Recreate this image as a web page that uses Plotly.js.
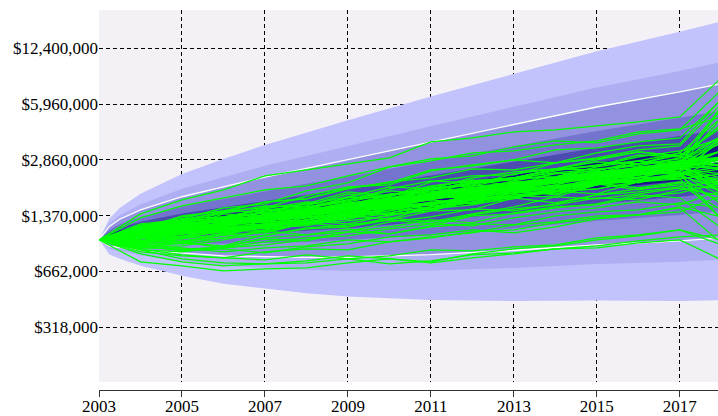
<!DOCTYPE html>
<html><head><meta charset="utf-8">
<script src="https://cdn.plot.ly/plotly-3.0.1.min.js"></script>
<style>html,body{margin:0;padding:0;background:#fff}#chart{width:718px;height:416px}</style>
</head><body><div id="chart"></div>
<script>
// All money values in thousands of dollars ($K)
const pathYears = [2003,2004,2005,2006,2007,2008,2009,2010,2011,2012,2013,2014,2015,2016,2017,2018];
const sim01 = [1000,1171,1318,1522,1604,1904,2115,2610,2898,3015,3393,3671,3576,4026,4243,7176];
const sim02 = [1000,1110,1171,1407,1371,1563,1830,1760,2143,2318,2349,2750,2898,3177,3015,4471];
const sim03 = [1000,1054,1013,1140,1234,1371,1301,1522,1584,1806,1955,1904,2200,2349,2411,2115];
const sim04 = [1000,1218,1251,1353,1267,1426,1563,1647,1955,1806,2007,2288,2380,2258,2542,3219];
const sim05 = [1000,924,961,1068,1096,1251,1186,1301,1464,1483,1737,1626,1806,1955,2060,1483];
const sim06 = [1000,1140,1267,1202,1407,1502,1737,1783,2007,2200,2033,2411,2542,2644,2937,5664];
const sim07 = [1000,1026,1186,1234,1353,1251,1426,1584,1563,1830,1929,2060,2318,2115,2411,2060];
const sim08 = [1000,1096,1040,1218,1318,1335,1502,1584,1806,1737,1904,2200,2143,2380,2576,2861];
const sim09 = [1000,877,854,912,1026,1068,1156,1082,1202,1371,1407,1522,1604,1806,1737,1171];
const sim10 = [1000,1186,1284,1445,1464,1604,1879,1783,2033,2171,2258,2542,2508,2715,3136,4967];
const sim11 = [1000,1068,1202,1110,1171,1353,1407,1563,1691,1604,1904,1955,2143,2288,2228,2380];
const sim12 = [1000,961,1040,1186,1156,1234,1389,1604,1502,1584,1760,1904,1830,2143,2228,1318];
const sim13 = [1000,1125,1318,1353,1502,1407,1522,1806,1879,1981,1929,2200,2411,2475,2787,3720];
const sim14 = [1000,1040,974,1068,1218,1284,1234,1389,1502,1737,1760,1879,2087,1929,2115,1669];
const sim15 = [1000,1156,1202,1335,1426,1626,1542,1669,1955,1929,2171,2380,2475,2824,2644,5815];
const sim16 = [1000,900,961,924,1068,1156,1186,1335,1267,1407,1542,1760,1714,1830,1981,1783];
const sim17 = [1000,1082,1234,1301,1251,1464,1604,1626,1854,1981,1830,2060,2411,2475,2679,3219];
const sim18 = [1000,1202,1318,1284,1464,1522,1691,1904,1830,2143,2258,2288,2610,2824,2679,2060];
const sim19 = [1000,949,877,912,1013,987,1110,1186,1301,1251,1426,1542,1584,1760,1854,2115];
const sim20 = [1000,1110,1140,1335,1445,1371,1563,1714,1783,2007,1879,2171,2349,2475,2787,1879];
const sim21 = [1000,1013,1125,1218,1110,1251,1335,1542,1584,1714,1904,1830,2060,2258,2288,3870];
const sim22 = [1000,1171,1251,1426,1563,1542,1669,1955,2171,2115,2258,2542,2644,3055,2975,2750];
const sim23 = [1000,974,1026,1125,1171,1301,1483,1389,1502,1691,1783,1760,2060,2200,2380,1318];
const sim24 = [1000,1096,1267,1251,1335,1502,1584,1714,1981,2033,2258,2411,2288,2576,2824,3921];
const sim25 = [1000,912,924,1000,1125,1068,1110,1267,1353,1502,1464,1604,1806,1879,2007,2171];
const sim26 = [1000,1234,1301,1445,1647,1714,1981,2115,2508,2644,2861,2750,3136,3438,3530,6376];
const sim27 = [1000,1054,1186,1218,1318,1502,1407,1647,1737,1760,1981,2200,2349,2258,2610,2143];
const sim28 = [1000,854,811,790,854,888,877,974,1026,1110,1140,1251,1335,1389,1542,1353];
const sim29 = [1000,1125,1218,1301,1542,1584,1760,2007,1955,2258,2443,2542,2861,3177,3015,4356];
const sim30 = [1000,987,1082,1140,1110,1267,1371,1426,1604,1737,1904,1806,2087,2143,2380,1783];
const sim31 = [1000,1140,1110,1251,1389,1502,1760,1737,1904,2171,2258,2508,2644,2975,3219,3770];
const sim32 = [1000,936,900,854,900,924,1000,974,1040,1096,1218,1267,1371,1389,1522,961];
const sim33 = [1000,888,821,790,769,821,779,811,877,866,912,936,1026,1068,1140,936];
const sim34 = [1000,832,749,711,730,739,779,730,759,821,843,888,900,961,1000,769];
const sim35 = [1000,1082,1125,1267,1335,1464,1407,1626,1760,1806,2060,2200,2228,2475,2715,5590];
const sim36 = [1000,961,949,1026,1054,1171,1218,1301,1234,1389,1502,1584,1737,1691,1929,2033];
const sim37 = [1000,1040,1125,1140,1284,1234,1353,1464,1647,1604,1714,1981,2087,2258,2318,1604];
const sim38 = [1000,924,866,888,843,912,949,1040,1068,1140,1096,1186,1318,1389,1445,1783];
const sim39 = [1000,1186,1353,1464,1522,1783,2007,2060,2475,2679,2861,3262,3349,3624,3820,6292];
const sim40 = [1000,877,779,739,730,759,811,779,739,790,832,888,924,987,1040,1068];
const sim41 = [1000,749,711,665,683,692,739,779,749,832,888,924,1000,1054,1140,1000];
const sim42 = [1000,1068,1171,1054,1202,1267,1371,1318,1542,1647,1806,1879,2115,1981,2143,1929];
const sim43 = [1000,1026,974,1096,1171,1218,1389,1502,1483,1647,1854,1904,2060,2349,2475,3671];
const sim44 = [1000,949,974,900,936,1000,1110,1082,1186,1234,1218,1371,1445,1483,1626,1522];
const sim45 = [1000,1335,1563,1737,1929,2033,2318,2610,2824,3136,3219,3483,3671,4133,4299,5032];
const sim46 = [1000,1156,1284,1335,1502,1647,1584,1806,1955,2060,2380,2542,2787,2715,3055,3870];
const sim47 = [1000,987,1013,1082,1186,1202,1335,1407,1464,1691,1737,1879,1955,2143,2318,1981];
const sim48 = [1000,1096,1156,1218,1318,1483,1584,1563,1737,1879,2115,2228,2411,2508,2787,2975];
const sim49 = [1000,1140,1371,1464,1647,1714,1955,2143,2258,2542,2508,2750,2937,3262,3438,5970];
const sim50 = [1000,900,888,900,974,1026,1054,1156,1234,1202,1335,1445,1522,1647,1584,1904];
const sim51 = [1000,1054,1110,1171,1202,1301,1407,1563,1626,1737,1904,1955,2200,2349,2542,2380];
const sim52 = [1000,1082,1202,1318,1426,1502,1691,1783,1955,2115,2200,2475,2679,2824,3136,2610];
const sim53 = [1000,974,987,1026,1140,1234,1284,1371,1542,1626,1760,1879,1955,2143,2288,2975];
const sim54 = [1000,1125,1171,1251,1371,1464,1542,1669,1783,1981,2087,2228,2443,2576,2750,2679];
const sim55 = [1000,1013,1082,1171,1218,1335,1426,1464,1626,1691,1854,2007,2115,2258,2542,1854];
const sim56 = [1000,1407,1691,1929,2318,2508,2715,2937,3624,3820,4133,4243,4471,4713,5032,8401];
const sim57 = [1000,1082,1186,1218,1301,1445,1502,1626,1714,1879,2007,2115,2349,2508,2610,2975];
const sim58 = [1000,1171,1140,1234,1284,1445,1464,1626,1737,1783,1981,2143,2228,2443,2576,2258];
const sim59 = [1000,1040,1171,1234,1353,1389,1502,1691,1760,1879,2033,2228,2288,2475,2750,2898];
const sim60 = [1000,1110,1171,1318,1335,1464,1542,1604,1830,1929,2007,2258,2443,2508,2750,2542];
const sim61 = [1000,1068,1096,1186,1335,1389,1522,1626,1760,1806,2033,2143,2318,2475,2610,3219];
const sim62 = [1000,1156,1234,1284,1353,1464,1626,1669,1806,2033,2087,2228,2443,2542,2824,2898];
const sim63 = [1000,974,1082,1156,1202,1301,1389,1563,1604,1760,1854,2007,2143,2380,2443,2033];
const sim64 = [1000,1096,1186,1318,1353,1445,1626,1714,1783,1981,2143,2200,2411,2715,2824,3870];
const sim65 = [1000,1054,1125,1234,1335,1389,1464,1604,1783,1854,1981,2143,2258,2475,2644,2542];
const sim66 = [1000,1125,1171,1202,1335,1464,1502,1604,1806,1955,1981,2200,2349,2542,2610,2898];
const sim67 = [1000,949,1026,1156,1186,1251,1371,1426,1542,1714,1806,1879,2115,2171,2349,2542];
const sim68 = [1000,1082,1218,1301,1318,1502,1563,1691,1737,1955,2087,2258,2349,2610,2715,3576];
const sim69 = [1000,1026,1082,1125,1218,1301,1445,1522,1626,1760,1929,2033,2171,2349,2443,2200];
const sim70 = [1000,1140,1234,1301,1389,1426,1604,1737,1806,1904,2115,2258,2443,2508,2750,3219];
const sim71 = [1000,1068,1186,1284,1353,1464,1483,1626,1783,1830,1981,2200,2288,2443,2750,2679];
const sim72 = [1000,1040,1082,1202,1284,1407,1522,1563,1737,1854,1955,2115,2318,2443,2576,3820];
const sim73 = [1000,1110,1140,1218,1318,1389,1522,1626,1760,1830,1981,2171,2228,2475,2644,2087];
const sim74 = [1000,1013,1110,1202,1234,1371,1464,1522,1714,1806,1929,2007,2228,2411,2542,2679];
const sim75 = [1000,1186,1251,1353,1483,1542,1647,1830,1929,2087,2228,2288,2508,2715,2898,4590];
const sim76 = [1000,987,1054,1110,1234,1267,1371,1502,1604,1691,1760,1955,2087,2200,2411,2610];
const sim77 = [1000,1096,1171,1251,1371,1445,1522,1691,1737,1904,2060,2200,2318,2542,2644,1879];
const sim78 = [1000,1054,1140,1218,1267,1389,1502,1604,1691,1879,1955,2115,2258,2380,2576,2937];
const sim79 = [1000,1125,1234,1284,1389,1483,1542,1714,1854,1929,2115,2228,2411,2576,2787,2644];
const sim80 = [1000,1082,1140,1251,1335,1445,1522,1626,1783,1904,2007,2200,2380,2475,2644,4967];

// Percentile fan (thousands of dollars)
const bandYears = [2003,2003.25,2003.5,2004,2005,2006,2007,2008,2009,2011,2013,2015,2017,2018];
const pct99 = [1000,1326,1522,1830,2377,2895,3483,4106,4819,6572,8889,11929,15414,17625];
const pct95 = [1000,1239,1380,1594,1958,2279,2644,3015,3438,4448,5747,7397,9198,10339];
const pct90 = [1000,1194,1311,1481,1762,2007,2282,2559,2868,3614,4555,5733,6990,7775];
const pct80 = [1000,1140,1229,1353,1550,1714,1904,2090,2297,2798,3420,4188,4973,5467];
const pct70 = [1000,1104,1177,1269,1416,1532,1673,1808,1963,2330,2794,3353,3911,4265];
const pct60 = [1000,1075,1130,1200,1309,1394,1498,1600,1728,1994,2343,2768,3182,3455];
const pct50 = [1000,1047,1089,1140,1218,1276,1353,1426,1512,1725,1994,2318,2627,2824];
const pct40 = [1000,1020,1050,1083,1133,1166,1222,1273,1333,1492,1695,1942,2168,2315];
const pct30 = [1000,992,1010,1025,1047,1061,1093,1124,1166,1277,1424,1602,1764,1869];
const pct20 = [1000,961,965,961,956,949,961,973,996,1064,1162,1284,1387,1458];
const pct10 = [1000,918,905,878,842,811,802,795,798,823,872,937,987,1025];
const pct05 = [1000,885,860,816,758,714,692,674,665,669,691,727,751,771];
const pct01 = [1000,826,779,711,624,562,525,495,475,453,447,451,448,452];

const yTickValues = [318,662,1370,2860,5960,12400];
const yTickLabels = ['$318,000','$662,000','$1,370,000','$2,860,000','$5,960,000','$12,400,000'];
const xTickYears = [2003,2005,2007,2009,2011,2013,2015,2017];

const simPaths = [sim01,sim02,sim03,sim04,sim05,sim06,sim07,sim08,sim09,sim10,sim11,sim12,sim13,sim14,
  sim15,sim16,sim17,sim18,sim19,sim20,sim21,sim22,sim23,sim24,sim25,sim26,sim27,sim28,sim29,sim30,
  sim31,sim32,sim33,sim34,sim35,sim36,sim37,sim38,sim39,sim40,sim41,sim42,sim43,sim44,sim45,sim46,
  sim47,sim48,sim49,sim50,sim51,sim52,sim53,sim54,sim55,sim56,sim57,sim58,sim59,sim60,sim61,sim62,
  sim63,sim64,sim65,sim66,sim67,sim68,sim69,sim70,sim71,sim72,sim73,sim74,sim75,sim76,sim77,sim78,
  sim79,sim80];

const traces = [];
const bands = [
  [pct01, pct99, 'rgb(194,194,252)'],
  [pct05, pct95, 'rgb(174,174,242)'],
  [pct10, pct90, 'rgb(146,146,224)'],
  [pct20, pct80, 'rgb(116,116,206)'],
  [pct30, pct70, 'rgb(76,76,176)'],
  [pct40, pct60, 'rgb(24,24,132)']
];
const revYears = bandYears.slice().reverse();
bands.forEach(function(b){
  traces.push({x: bandYears.concat(revYears), y: b[1].concat(b[0].slice().reverse()),
    type:'scatter', mode:'lines', fill:'toself', fillcolor:b[2],
    line:{width:0, color:b[2]}, hoverinfo:'skip', showlegend:false});
});
[pct90, pct10, pct50].forEach(function(p){
  traces.push({x: bandYears, y: p, type:'scatter', mode:'lines',
    line:{color:'#ffffff', width:1.3}, hoverinfo:'skip', showlegend:false});
});
simPaths.forEach(function(p){
  traces.push({x: pathYears, y: p, type:'scatter', mode:'lines',
    line:{color:'#00ff00', width:1.2}, hoverinfo:'skip', showlegend:false});
});

const tickFont = {family:'"Liberation Serif", "Times New Roman", serif', size:17, color:'#000'};
const layout = {
  width:718, height:416,
  margin:{l:99, r:0, t:10, b:26, pad:0},
  paper_bgcolor:'#ffffff', plot_bgcolor:'#f4f1f6',
  showlegend:false,
  xaxis:{range:[2003,2017.92], anchor:'free', position:0,
    tickmode:'array', tickvals:xTickYears, ticktext:xTickYears.map(String),
    ticks:'outside', ticklen:6, tickcolor:'#333', tickwidth:1,
    ticklabelstandoff:-5,
    showline:true, linecolor:'#333', linewidth:1,
    showgrid:true, gridcolor:'#000', gridwidth:1, griddash:'4px,3px',
    zeroline:false, tickfont:tickFont},
  yaxis:{type:'log', range:[2.1887,4.3120], domain:[0.0211,1],
    tickmode:'array', tickvals:yTickValues, ticktext:yTickLabels,
    ticks:'', showline:false,
    showgrid:true, gridcolor:'#000', gridwidth:1, griddash:'4px,3px',
    zeroline:false, tickfont:tickFont}
};
Plotly.newPlot('chart', traces, layout, {displayModeBar:false, staticPlot:true});
</script></body></html>
